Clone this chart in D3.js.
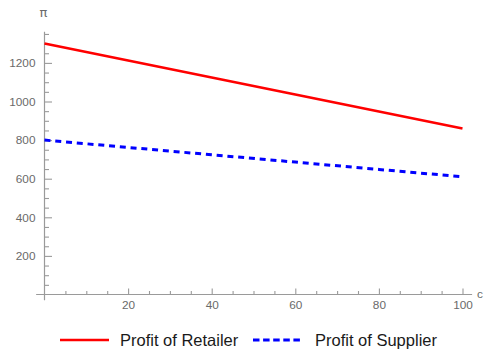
<!DOCTYPE html>
<html>
<head>
<meta charset="utf-8">
<script src="https://cdn.jsdelivr.net/npm/d3@7/dist/d3.min.js"></script>
<style>
html,body{margin:0;padding:0;background:#fff;}
svg{display:block;font-family:"Liberation Sans",Arial,sans-serif;}
</style>
</head>
<body>
<svg id="chart" width="485" height="350"></svg>
<script>
// ---- data ----
const xValues = [0, 20, 40, 60, 80, 100];
const retailerProfit = [1300, 1212, 1124, 1036, 948, 860];
const supplierProfit = [800, 762, 724, 686, 648, 610];
const xTickValues = [20, 40, 60, 80, 100];
const yTickValues = [200, 400, 600, 800, 1000, 1200];
const seriesNames = ["Profit of Retailer", "Profit of Supplier"];
const yAxisLabel = "\u03c0";
const xAxisLabel = "c";

const svg = d3.select("#chart");
const x = d3.scaleLinear().domain([0, 100]).range([44.5, 462.5]);
const y = d3.scaleLinear().domain([0, 1200]).range([294.5, 62.9]);

const axisColor = "#9a9a9a";
const labelColor = "#6a6a6a";

// axis lines (extended like Mathematica)
svg.append("line").attr("x1", x(-2)).attr("x2", x(102.3)).attr("y1", y(0)).attr("y2", y(0))
  .attr("stroke", axisColor).attr("stroke-width", 1.2);
svg.append("line").attr("x1", x(0)).attr("x2", x(0)).attr("y1", y(-30)).attr("y2", y(1362))
  .attr("stroke", axisColor).attr("stroke-width", 1.2);

// minor ticks
const xMinor = d3.range(5, 101, 5).filter(v => v % 20 !== 0);
const yMinor = d3.range(50, 1351, 50).filter(v => v % 200 !== 0);

const gxMinor = svg.append("g").attr("transform", `translate(0,${y(0)})`)
  .call(d3.axisBottom(x).tickValues(xMinor).tickSize(-3.5).tickFormat(""));
const gyMinor = svg.append("g").attr("transform", `translate(${x(0)},0)`)
  .call(d3.axisLeft(y).tickValues(yMinor).tickSize(-4.5).tickFormat(""));

const gx = svg.append("g").attr("transform", `translate(0,${y(0)})`)
  .call(d3.axisBottom(x).tickValues(xTickValues).tickSize(-6).tickPadding(6).tickFormat(d3.format("d")));
const gy = svg.append("g").attr("transform", `translate(${x(0)},0)`)
  .call(d3.axisLeft(y).tickValues(yTickValues).tickSize(-7.5).tickPadding(9).tickFormat(d3.format("d")));

[gxMinor, gyMinor, gx, gy].forEach(g => {
  g.select(".domain").remove();
  g.selectAll(".tick line").attr("stroke", axisColor).attr("stroke-width", 1.1);
  g.selectAll(".tick text").attr("fill", labelColor)
    .style("font-family", '"Liberation Sans", Arial, sans-serif').style("font-size", "11.8px");
});

// axis labels
svg.append("text").attr("x", x(0) - 1).attr("y", 17).attr("text-anchor", "middle")
  .attr("fill", labelColor).style("font-size", "13px").style("font-family", '"DejaVu Sans", sans-serif').text(yAxisLabel);
svg.append("text").attr("x", 477).attr("y", 298).attr("text-anchor", "start")
  .attr("fill", labelColor).style("font-size", "11.8px").text(xAxisLabel);

// lines
const line = d3.line().x((d, i) => x(xValues[i])).y(d => y(d));
svg.append("path").datum(retailerProfit).attr("d", line)
  .attr("fill", "none").attr("stroke", "#ff0000").attr("stroke-width", 2.6);
svg.append("path").datum(supplierProfit).attr("d", line)
  .attr("fill", "none").attr("stroke", "#0000ff").attr("stroke-width", 3)
  .attr("stroke-dasharray", "6,4.8");

// legend
const legendY = 340;
const leg = svg.append("g");
leg.append("line").attr("x1", 60).attr("x2", 109).attr("y1", legendY).attr("y2", legendY)
  .attr("stroke", "#ff0000").attr("stroke-width", 2.6);
leg.append("text").attr("x", 120).attr("y", legendY + 6).attr("fill", "#1a1a1a")
  .style("font-size", "16.5px").text(seriesNames[0]);
leg.append("line").attr("x1", 253).attr("x2", 302).attr("y1", legendY).attr("y2", legendY)
  .attr("stroke", "#0000ff").attr("stroke-width", 3).attr("stroke-dasharray", "6.5,3.6");
leg.append("text").attr("x", 315).attr("y", legendY + 6).attr("fill", "#1a1a1a")
  .style("font-size", "16.5px").text(seriesNames[1]);
</script>
</body>
</html>
